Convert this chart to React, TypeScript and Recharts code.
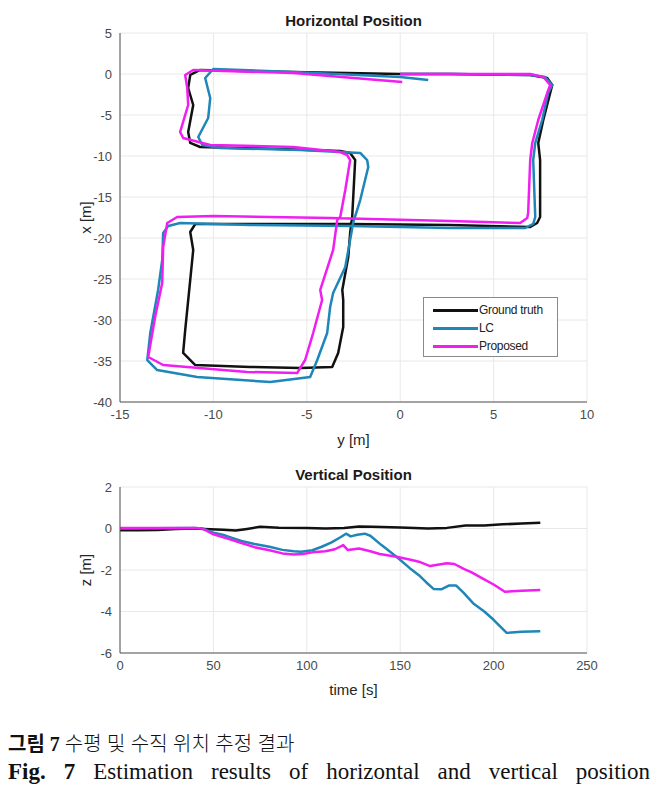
import React from 'react';
import { LineChart, Line, XAxis, YAxis, CartesianGrid } from 'recharts';

// ---- Horizontal position: [y (m), x (m)] ----
const groundTruthPath: [number, number][] = [
  [0, 0], [2.68, 0], [6.96, -0.12], [7.87, -0.49], [8.14, -1.34], [8.03, -2.32], [7.66, -5.61],
  [7.39, -8.41], [7.49, -10.49], [7.49, -17.44], [7.33, -18.17], [6.96, -18.66], [2.68, -18.41],
  [-2.68, -18.29], [-8.03, -18.29], [-10.97, -18.29], [-11.24, -19.27], [-11.08, -21.46],
  [-11.24, -25.12], [-11.51, -31.22], [-11.62, -34.02], [-10.97, -35.49], [-8.03, -35.73],
  [-5.35, -35.85], [-3.64, -35.73], [-3.32, -34.02], [-3.05, -30.85], [-3.05, -27.56],
  [-3.1, -26.34], [-2.78, -22.32], [-2.68, -19.39], [-2.57, -17.44], [-2.41, -10.49],
  [-2.68, -9.63], [-3.21, -9.39], [-6.42, -9.15], [-10.71, -8.9], [-11.24, -8.41],
  [-11.35, -7.07], [-11.08, -3.78], [-11.35, -1.71], [-11.24, -0.12], [-10.71, 0.49],
  [-5.73, 0.24], [0, 0],
];
const lcPath: [number, number][] = [
  [0, 0], [2.68, 0], [6.96, -0.12], [7.76, -0.37], [8.14, -1.34], [7.92, -2.32], [7.6, -5.61],
  [7.23, -8.41], [7.12, -10.49], [7.23, -17.44], [7.12, -18.29], [6.69, -18.78], [2.68, -18.78],
  [-2.68, -18.54], [-8.03, -18.41], [-11.78, -18.17], [-12.42, -18.54], [-12.69, -19.39],
  [-12.74, -22.68], [-12.96, -26.34], [-13.38, -31.59], [-13.54, -34.88], [-13.01, -36.1],
  [-10.87, -36.95], [-6.96, -37.56], [-4.82, -36.95], [-4.44, -34.88], [-3.91, -31.59],
  [-3.75, -28.41], [-3.59, -26.71], [-2.94, -23.54], [-2.68, -20.24], [-2.52, -18.17],
  [-2.14, -15.37], [-1.71, -11.34], [-1.77, -10.49], [-2.14, -9.63], [-5.35, -9.27],
  [-9.64, -9.02], [-10.6, -8.66], [-10.81, -7.68], [-10.28, -5.37], [-10.17, -2.93],
  [-10.44, -0.49], [-10.01, 0.61], [-5.73, 0.24], [0, -0.37], [1.5, -0.73],
];
const proposedPath: [number, number][] = [
  [0, 0], [2.68, 0], [6.96, 0], [7.66, -0.37], [8.03, -1.34], [7.87, -2.32], [7.39, -5.61],
  [7.07, -8.41], [6.96, -10.49], [6.85, -16.95], [6.8, -17.56], [6.42, -18.17], [2.68, -17.93],
  [-3.75, -17.56], [-10.01, -17.32], [-11.94, -17.44], [-12.47, -18.17], [-12.69, -21.1],
  [-12.74, -25.49], [-13.12, -29.63], [-13.49, -34.51], [-12.69, -35.49], [-8.19, -36.34],
  [-5.51, -36.46], [-5.09, -34.88], [-4.66, -31.59], [-4.18, -27.56], [-4.28, -26.34],
  [-3.59, -21.46], [-3.37, -17.8], [-3.21, -17.44], [-2.94, -14.15], [-2.68, -10.49],
  [-2.84, -9.88], [-3.21, -9.51], [-5.73, -8.9], [-10.17, -8.66], [-11.62, -7.8],
  [-11.78, -7.07], [-11.35, -3.78], [-11.4, -1.71], [-11.51, -0.12], [-11.08, 0.49],
  [-5.73, 0.12], [0.11, -0.98],
];

// ---- Vertical position: [time (s), z (m)] ----
const groundTruthZ: [number, number][] = [
  [0, -0.08], [10, -0.08], [20, -0.07], [30, -0.03], [40, 0], [45, -0.02], [55, -0.06],
  [62, -0.1], [68, -0.02], [75, 0.08], [85, 0.04], [100, 0.03], [110, 0], [120, 0.02],
  [128, 0.1], [135, 0.08], [150, 0.05], [165, 0], [175, 0.03], [185, 0.15], [195, 0.14],
  [205, 0.2], [215, 0.24], [225, 0.28],
];
const lcZ: [number, number][] = [
  [0, 0], [20, 0.01], [40, 0.02], [44, 0], [50, -0.2], [55, -0.3], [60, -0.45], [65, -0.6],
  [72, -0.75], [80, -0.88], [87, -1.03], [93, -1.1], [97, -1.12], [103, -1.05], [108, -0.88],
  [113, -0.68], [118, -0.42], [121, -0.25], [123.5, -0.38], [127, -0.3], [131, -0.25],
  [134, -0.35], [140, -0.8], [148, -1.36], [155, -1.9], [160, -2.25], [164, -2.6],
  [168, -2.92], [172, -2.93], [176, -2.75], [180, -2.75], [184, -3.1], [189, -3.6],
  [195, -4.0], [200, -4.4], [207, -5.03], [215, -4.98], [225, -4.95],
];
const proposedZ: [number, number][] = [
  [0, 0.03], [20, 0.03], [40, 0.03], [44, 0], [50, -0.28], [58, -0.5], [65, -0.7], [72, -0.9],
  [80, -1.05], [87, -1.2], [93, -1.25], [98, -1.23], [103, -1.15], [110, -1.1], [115, -1.0],
  [119.5, -0.8], [122, -1.04], [128, -0.96], [134, -1.1], [139, -1.23], [148, -1.36],
  [155, -1.49], [160, -1.6], [166, -1.81], [170, -1.75], [175, -1.68], [179, -1.71],
  [184, -1.95], [188, -2.1], [194, -2.4], [200, -2.7], [206, -3.05], [215, -3.0], [225, -2.96],
];

const yTicksH = [-15, -10, -5, 0, 5, 10];
const xTicksH = [-40, -35, -30, -25, -20, -15, -10, -5, 0, 5];
const timeTicks = [0, 50, 100, 150, 200, 250];
const zTicks = [-6, -4, -2, 0, 2];

const seriesNames = ['Ground truth', 'LC', 'Proposed'];
const seriesColors = ['#111111', '#1f86b8', '#f01ef0'];

const toXY = (arr: [number, number][]) => arr.map(([y, x]) => ({ y, x }));
const toTZ = (arr: [number, number][]) => arr.map(([t, z]) => ({ t, z }));

const FONT = 'Arial, "Liberation Sans", Helvetica, sans-serif';
const tickStyle = { fontSize: 13, fill: '#4a4a4a', fontFamily: FONT };
const axisLabelStyle = { fontSize: 15, fill: '#262626', fontFamily: FONT };

const LegendBox = () => (
  <div
    style={{
      position: 'absolute', left: 423, top: 297,
      width: 135, height: 60,
      border: '1px solid #8a8a8a',
      background: '#fff',
      boxSizing: 'border-box',
      fontFamily: FONT,
      fontSize: 12,
      color: '#222',
      paddingTop: 3,
    }}
  >
    {seriesNames.map((n, i) => (
      <div key={n} style={{ display: 'flex', alignItems: 'center', height: 18 }}>
        <div style={{ width: 45, height: 3, background: seriesColors[i], marginLeft: 9, marginRight: 1 }} />
        <span style={{ letterSpacing: -0.3 }}>{n}</span>
      </div>
    ))}
  </div>
);

export default function App() {
  return (
    <div style={{ position: 'absolute', left: 0, top: 0, width: 663, height: 794, background: '#fff' }}>
      <div
        style={{
          position: 'absolute', left: 120, width: 467, top: 12, textAlign: 'center',
          fontFamily: FONT, fontWeight: 'bold', fontSize: 15, color: '#1a1a1a',
        }}
      >
        Horizontal Position
      </div>
      <div style={{ position: 'absolute', left: 0, top: 0 }}>
        <LineChart width={663} height={480} margin={{ top: 33, right: 76, left: 52, bottom: 2 }}>
          <CartesianGrid stroke="#e8e8e8" strokeWidth={1} />
          <XAxis
            type="number"
            dataKey="y"
            domain={[-15, 10]}
            ticks={yTicksH}
            allowDataOverflow
            height={76}
            tickLine={false}
            stroke="#555"
            tick={tickStyle}
            label={{ value: 'y [m]', position: 'center', style: axisLabelStyle }}
          />
          <YAxis
            type="number"
            dataKey="x"
            domain={[-40, 5]}
            ticks={xTicksH}
            allowDataOverflow
            width={68}
            tickLine={false}
            stroke="#555"
            tick={tickStyle}
            label={{ value: 'x [m]', position: 'center', angle: -90, style: axisLabelStyle }}
          />
          <Line data={toXY(groundTruthPath)} dataKey="x" name={seriesNames[0]} stroke={seriesColors[0]} strokeWidth={2.5} strokeLinejoin="round" dot={false} isAnimationActive={false} />
          <Line data={toXY(lcPath)} dataKey="x" name={seriesNames[1]} stroke={seriesColors[1]} strokeWidth={2.5} strokeLinejoin="round" dot={false} isAnimationActive={false} />
          <Line data={toXY(proposedPath)} dataKey="x" name={seriesNames[2]} stroke={seriesColors[2]} strokeWidth={2.5} strokeLinejoin="round" dot={false} isAnimationActive={false} />
        </LineChart>
      </div>
      <LegendBox />

      <div
        style={{
          position: 'absolute', left: 120, width: 467, top: 466, textAlign: 'center',
          fontFamily: FONT, fontWeight: 'bold', fontSize: 15, color: '#1a1a1a',
        }}
      >
        Vertical Position
      </div>
      <div style={{ position: 'absolute', left: 0, top: 455 }}>
        <LineChart width={663} height={280} margin={{ top: 32, right: 76, left: 52, bottom: 8 }}>
          <CartesianGrid stroke="#e8e8e8" strokeWidth={1} />
          <XAxis
            type="number"
            dataKey="t"
            domain={[0, 250]}
            ticks={timeTicks}
            allowDataOverflow
            height={74}
            tickLine={false}
            stroke="#555"
            tick={tickStyle}
            label={{ value: 'time [s]', position: 'center', style: axisLabelStyle }}
          />
          <YAxis
            type="number"
            dataKey="z"
            domain={[-6, 2]}
            ticks={zTicks}
            allowDataOverflow
            width={68}
            tickLine={false}
            stroke="#555"
            tick={tickStyle}
            label={{ value: 'z [m]', position: 'center', angle: -90, style: axisLabelStyle }}
          />
          <Line data={toTZ(groundTruthZ)} dataKey="z" name={seriesNames[0]} stroke={seriesColors[0]} strokeWidth={2.5} strokeLinejoin="round" dot={false} isAnimationActive={false} />
          <Line data={toTZ(lcZ)} dataKey="z" name={seriesNames[1]} stroke={seriesColors[1]} strokeWidth={2.5} strokeLinejoin="round" dot={false} isAnimationActive={false} />
          <Line data={toTZ(proposedZ)} dataKey="z" name={seriesNames[2]} stroke={seriesColors[2]} strokeWidth={2.5} strokeLinejoin="round" dot={false} isAnimationActive={false} />
        </LineChart>
      </div>

      <div
        style={{
          position: 'absolute', left: 8, top: 728, width: 642, fontSize: 20,
          fontFamily: '"Noto Sans CJK KR", sans-serif', color: '#111', whiteSpace: 'nowrap',
        }}
      >
        <span style={{ fontWeight: 'bold' }}>그림</span>
        <span style={{ fontWeight: 'bold', fontFamily: '"Liberation Serif", serif' }}> 7 </span>
        <span style={{ fontWeight: 300, wordSpacing: 1 }}>수평 및 수직 위치 추정 결과</span>
      </div>
      <div
        style={{
          position: 'absolute', left: 8, top: 759, width: 642, fontSize: 23,
          fontFamily: '"Liberation Serif", "DejaVu Serif", serif', color: '#111',
          textAlign: 'justify', textAlignLast: 'justify', whiteSpace: 'nowrap',
        }}
      >
        <span style={{ fontWeight: 'bold' }}>Fig. 7</span> Estimation results of horizontal and vertical position
      </div>
    </div>
  );
}
